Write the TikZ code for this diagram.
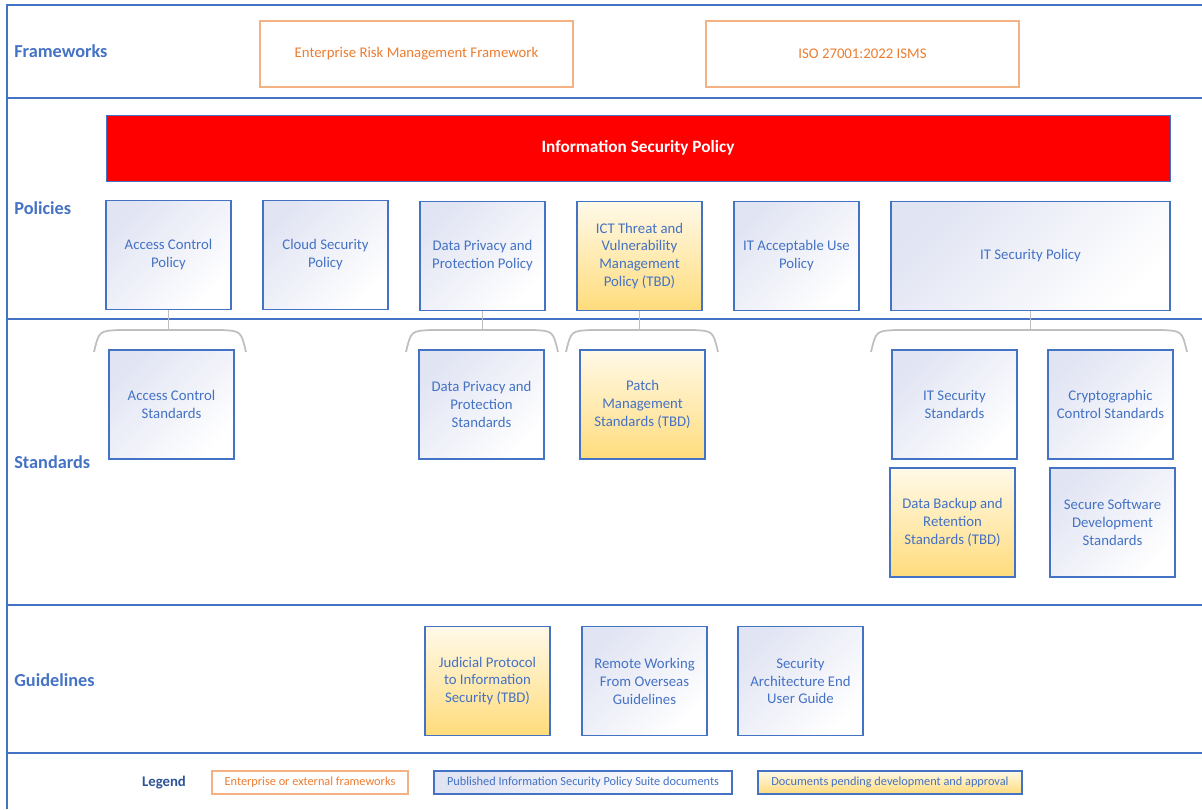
\documentclass[tikz,border=0pt]{standalone}
\usepackage{fontspec}
\setmainfont{Carlito}
\usepackage{xcolor}
\definecolor{suiteBlue}{HTML}{4472C4}
\definecolor{suiteNavy}{HTML}{2F5597}
\definecolor{suiteOrange}{HTML}{ED7D31}
\definecolor{suiteOrangeLine}{HTML}{F4B183}
\definecolor{suiteLavender}{HTML}{E1E4F3}
\definecolor{suiteCream}{HTML}{FFF9E8}
\definecolor{suiteGold}{HTML}{FFDC7C}
\definecolor{suiteGrey}{HTML}{BFBFBF}
\definecolor{suiteRed}{HTML}{FF0000}
\usetikzlibrary{positioning}
\newcommand{\docfont}{\fontsize{8.4}{10.2}\selectfont}
\newcommand{\legendfont}{\fontsize{7}{8.5}\selectfont}
\tikzset{
  %% -- Boxes ---------------------------------------------------------------
  %% blue = published, gold = still to be written, orange = outside the suite
  docBox/.style     = {draw=suiteBlue, line width=0.7pt, align=center,
                       text=suiteBlue, font=\docfont, inner sep=2pt,
                       top color=suiteLavender, bottom color=white,
                       shading angle=45,
                       minimum width=25mm, minimum height=21.8mm},
  docPending/.style = {docBox, top color=suiteCream, bottom color=suiteGold},
  docExternal/.style= {draw=suiteOrangeLine, line width=0.75pt, fill=white,
                       text=suiteOrange, font=\docfont, align=center,
                       minimum width=62.6mm, minimum height=13.2mm},
  policyBar/.style  = {draw=suiteBlue, line width=0.4pt, fill=suiteRed,
                       text=white, font=\bfseries\fontsize{9.8}{11}\selectfont,
                       minimum width=212.8mm, minimum height=13.2mm},
  %%
  %% -- Lines ---------------------------------------------------------------
  bandLine/.style   = {draw=suiteBlue, line width=0.9pt},
  stem/.style       = {draw=suiteGrey, line width=1pt},
  brace/.style      = {draw=suiteGrey, line width=1pt},
  %%
  %% -- Text ----------------------------------------------------------------
  bandTitle/.style  = {anchor=west, inner sep=0pt, text=suiteBlue,
                       font=\bfseries\fontsize{10.4}{12}\selectfont},
}

\begin{document}
\begin{tikzpicture}[x=0.2mm, y=-0.2mm,
    legendBox/.style = {font=\legendfont, minimum height=4.6mm,
                        line width=0.6pt, inner sep=1pt}]

\useasboundingbox (0,0) rectangle (1202,809);

% bands
\draw[bandLine] (7,809) -- (7,5) -- (1202,5);
\foreach \y in {98, 319, 605, 753} \draw[bandLine] (7,\y) -- (1202,\y);

\node[bandTitle] (tFrame) at (14,51)  {Frameworks};
\node[bandTitle] (tPol)   at (14,208) {Policies};
\node[bandTitle] (tStd)   at (14,462) {Standards};
\node[bandTitle] (tGuide) at (14,680) {Guidelines};

% frameworks
\node[docExternal] (erm) at (416.5,54) {Enterprise Risk Management Framework};
\node[docExternal] (iso) at (862.5,54) {ISO 27001:2022 ISMS};

% policies
\node[policyBar] (isp) at (638,148) {Information Security Policy};

\node[docBox]     (acp)  at (168.5,255) {Access Control\\Policy};
\node[docBox]     (csp)  at (325.5,255) {Cloud Security\\Policy};
\node[docBox]     (dpp)  at (482.5,256) {Data Privacy and\\Protection Policy};
\node[docPending] (ict)  at (639.5,256) {ICT Threat and\\Vulnerability\\Management\\Policy (TBD)};
\node[docBox]     (itau) at (796.5,256) {IT Acceptable Use\\Policy};
\node[docBox, minimum width=55.8mm] (itsp) at (1030.5,256) {IT Security Policy};

% standards
\node[docBox]     (acs)  at (171.5,404.5) {Access Control\\Standards};
\node[docBox]     (dps)  at (481.5,404.5) {Data Privacy and\\Protection\\Standards};
\node[docPending] (pms)  at (642.5,404.5) {Patch\\Management\\Standards (TBD)};
\node[docBox]     (itss) at (954.5,404.5) {IT Security\\Standards};
\node[docBox]     (ccs)  at (1110.5,404.5) {Cryptographic\\Control Standards};
\node[docPending] (dbr)  at (952.5,522.5) {Data Backup and\\Retention\\Standards (TBD)};
\node[docBox]     (ssd)  at (1112.5,522.5) {Secure Software\\Development\\Standards};

% policy -> its standards
\foreach \p/\l/\r in {acp/94/246, dpp/406/558, ict/566/718, itsp/871/1187} {
  \coordinate (\p-brace) at (\p.south |- 0,330);
  \draw[stem] (\p) -- (\p-brace);
  \draw[brace] (\l,352) .. controls (\l+5,331) .. (\l+25,330)
               -- (\r-25,330) .. controls (\r-5,331) .. (\r,352);
}

% guidelines
\node[docPending] (jp) at (487.5,681) {Judicial Protocol\\to Information\\Security (TBD)};
\node[docBox]     (rw) at (644.5,681) {Remote Working\\From Overseas\\Guidelines};
\node[docBox]     (sa) at (800.5,681) {Security\\Architecture End\\User Guide};

% legend
\node[font=\bfseries\fontsize{8.4}{10}\selectfont, text=suiteNavy] (lgTitle) at (164,783) {Legend};
\node[docExternal, legendBox, minimum width=39.2mm] (lgExt) at (310,782.5)
     {Enterprise or external frameworks};
\node[docBox, legendBox, minimum width=59.6mm] (lgPub) at (583,782.5)
     {Published Information Security Policy Suite documents};
\node[docPending, legendBox, minimum width=52.8mm] (lgPend) at (890,782.5)
     {Documents pending development and approval};

\end{tikzpicture}
\end{document}
